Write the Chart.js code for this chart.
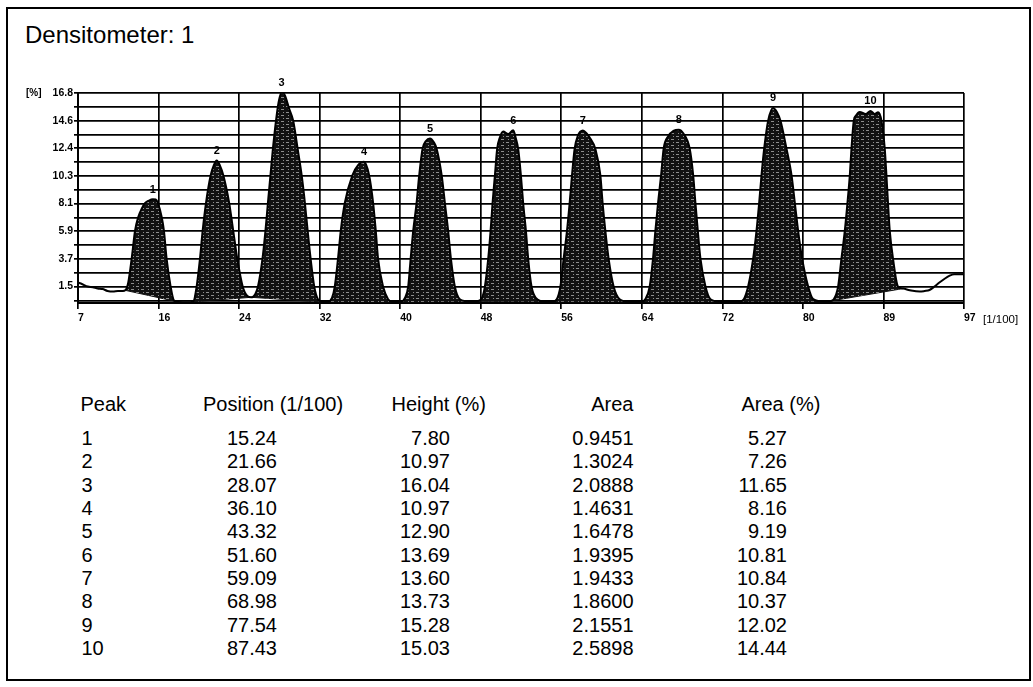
<!DOCTYPE html>
<html><head><meta charset="utf-8">
<script src="https://cdn.jsdelivr.net/npm/chart.js@4/dist/chart.umd.min.js"></script>
<style>
html,body{margin:0;padding:0;background:#fff;}
body{width:1033px;height:687px;position:relative;overflow:hidden;font-family:"Liberation Sans",Arial,sans-serif;color:#000;}
#frame{position:absolute;left:6px;top:7px;width:1025px;height:674px;border:2px solid #000;box-sizing:border-box;}
#title{position:absolute;left:25px;top:23px;font-size:24px;line-height:24px;white-space:nowrap;}
#wrap{position:absolute;left:0;top:0;width:1033px;height:330px;}
.t{position:absolute;font-size:20px;line-height:20px;white-space:nowrap;}
</style></head><body>
<div id="frame"></div>
<div id="title">Densitometer: 1</div>
<div id="wrap"><canvas id="c" width="1033" height="330"></canvas></div>
<div id="table"></div>
<script>
const xTickLabels = ['7','16','24','32','40','48','56','64','72','80','89','97'];
const yTickLabels = ['16.8','14.6','12.4','10.3','8.1','5.9','3.7','1.5'];

const traceX = [7.0,7.4,8.0,8.5,9.0,9.5,10.0,10.55,11.06,11.57,11.8,12.1,12.45,12.79,13.12,13.5,13.8,14.2,14.6,14.9,15.12,15.5,15.73,16.0,16.41,16.75,17.2,18.0,18.7,
19.05,19.39,19.66,20.0,20.48,20.8,21.09,21.4,21.76,22.36,22.77,23.18,23.73,24.2,24.6,
25.0,25.28,25.74,26.04,26.29,26.55,26.8,27.11,27.36,27.69,28.02,28.43,28.86,29.31,29.72,30.05,30.33,30.63,31.0,31.37,31.8,32.4,
32.8,33.08,33.41,33.69,34.1,34.87,35.45,36.06,36.57,36.98,37.25,37.48,37.99,38.5,39.0,39.8,
40.21,40.54,40.79,41.05,41.39,41.66,42.0,42.34,42.75,43.15,43.43,43.94,44.27,44.6,44.88,45.28,45.79,46.8,47.6,
48.03,48.33,48.67,48.91,49.11,49.35,49.58,49.86,50.19,50.7,51.21,51.48,51.71,51.99,52.22,52.5,52.73,53.07,53.51,54.42,55.2,
55.63,56.0,56.33,56.67,56.94,57.18,57.45,57.76,58.29,58.67,59.04,59.55,60.06,60.29,60.57,60.9,61.41,62.02,63.0,64.2,
64.63,65.07,65.41,65.65,65.92,66.23,66.49,66.97,67.48,68.02,68.5,69.14,69.49,69.72,69.96,70.23,70.74,71.25,72.3,74.2,
74.63,75.07,75.58,75.92,76.19,76.43,76.7,77.1,77.61,77.99,78.36,78.97,79.48,79.82,80.15,80.56,81.17,81.68,82.86,83.4,
83.77,84.21,84.55,84.89,85.16,85.4,85.57,85.8,86.01,86.41,87.02,87.5,87.94,88.27,88.62,88.95,89.12,89.28,89.46,89.79,90.3,90.81,
91.49,92.5,93.0,93.5,94.0,94.5,95.0,95.5,96.0,97.0];
const traceY = [1.82,1.7,1.5,1.45,1.35,1.3,1.15,1.1,1.15,1.15,1.2,1.8,3.7,5.9,7.0,7.7,8.1,8.3,8.4,8.38,8.1,7.0,5.9,3.7,1.5,0.4,0.28,0.25,0.3,
1.5,3.7,5.9,8.1,10.3,11.1,11.46,11.1,10.3,8.1,5.9,3.7,1.5,0.75,0.65,
0.9,1.5,3.7,5.9,8.1,10.3,12.4,14.6,16.0,16.88,16.6,15.6,14.6,12.4,10.3,8.1,5.9,3.7,1.5,0.5,0.28,0.3,
0.6,1.5,3.7,5.9,8.1,10.3,11.1,11.36,10.3,8.1,5.9,3.7,1.5,0.5,0.28,0.28,
0.6,1.5,3.7,5.9,8.1,10.3,12.4,13.0,13.2,12.9,12.4,10.3,8.1,5.9,3.7,1.5,0.5,0.32,0.35,
0.6,1.5,3.7,5.9,8.1,10.3,12.4,13.3,13.75,13.55,13.85,13.2,12.4,10.3,8.1,5.9,3.7,1.5,0.6,0.3,0.3,
0.5,1.5,3.7,5.9,8.1,10.3,12.4,13.4,13.83,13.6,13.2,12.4,10.3,8.1,5.9,3.7,1.5,0.5,0.3,0.3,
0.5,1.5,3.7,5.9,8.1,10.3,12.4,13.4,13.8,13.9,13.6,12.4,10.3,8.1,5.9,3.7,1.5,0.5,0.3,0.32,
0.5,1.5,3.7,5.9,8.1,10.3,12.4,14.6,15.62,15.3,14.6,12.4,10.3,8.1,5.9,3.7,1.5,0.5,0.3,0.35,
0.5,1.5,3.7,5.9,8.1,10.3,12.4,14.6,15.0,15.3,15.14,15.38,15.14,15.28,14.6,12.4,10.3,8.1,5.9,3.7,1.5,1.34,
1.21,1.1,1.15,1.23,1.5,1.82,2.1,2.34,2.47,2.47];

const peakNumbers = [1,2,3,4,5,6,7,8,9,10];
const peakStartX = [11.8,18.7,24.6,32.4,39.8,47.6,55.2,64.2,74.2,83.4];
const peakEndX   = [17.2,24.6,31.8,39.0,46.8,54.42,63.0,72.3,82.86,90.81];
const baseStartY = [1.2,0.3,0.65,0.3,0.28,0.35,0.3,0.3,0.32,0.35];
const baseEndY   = [0.28,0.65,0.28,0.28,0.32,0.3,0.3,0.3,0.3,1.34];

const tablePosition = [15.24,21.66,28.07,36.10,43.32,51.60,59.09,68.98,77.54,87.43];
const tableHeight   = [7.80,10.97,16.04,10.97,12.90,13.69,13.60,13.73,15.28,15.03];
const tableArea     = [0.9451,1.3024,2.0888,1.4631,1.6478,1.9395,1.9433,1.8600,2.1551,2.5898];
const tableAreaPct  = [5.27,7.26,11.65,8.16,9.19,10.81,10.84,10.37,12.02,14.44];

const FONT = '"Liberation Sans", Arial, sans-serif';

function makePattern(){
  const c = document.createElement('canvas'); c.width = 10; c.height = 6;
  const p = c.getContext('2d');
  p.fillStyle = '#111'; p.fillRect(0,0,10,6);
  p.fillStyle = '#8c8c8c';
  p.fillRect(1,1,3,1); p.fillRect(6,4,3,1); p.fillRect(8,1,1,1); p.fillRect(3,4,1,1);
  return p.createPattern(c,'repeat');
}
const pat = makePattern();

const tracePts = traceX.map((x,i)=>({x:x, y:traceY[i]}));
const datasets = [{
  label:'trace', data: tracePts, borderColor:'#000', borderWidth:2, pointRadius:0,
  fill:false, cubicInterpolationMode:'monotone', order:0
}];
peakNumbers.forEach((n,i)=>{
  datasets.push({
    label:'peak '+n,
    data: tracePts.filter(p=>p.x>=peakStartX[i]-1e-6 && p.x<=peakEndX[i]+1e-6),
    borderWidth:0, borderColor:'rgba(0,0,0,0)', backgroundColor:pat, pointRadius:0,
    fill:{target: 1+peakNumbers.length+i}, cubicInterpolationMode:'monotone', order:1
  });
});
peakNumbers.forEach((n,i)=>{
  datasets.push({
    label:'baseline '+n,
    data:[{x:peakStartX[i],y:baseStartY[i]},{x:peakEndX[i],y:baseEndY[i]}],
    borderColor:'#111', borderWidth:1, pointRadius:0, fill:false, order:1
  });
});

const labelPlugin = {
  id:'peakLabels',
  afterDatasetsDraw(chart){
    const ctx = chart.ctx; ctx.save();
    ctx.fillStyle = '#000';
    ctx.font = 'bold 11px ' + FONT; ctx.textAlign = 'center'; ctx.textBaseline = 'bottom';
    peakNumbers.forEach((n,i)=>{
      const meta = chart.getDatasetMeta(1+i);
      let top = null;
      meta.data.forEach(p=>{ if(!top || p.y < top.y) top = p; });
      if (top) ctx.fillText(String(n), top.x, top.y - 4);
    });
    const ya = chart.scales.y, xa = chart.scales.x;
    ctx.textAlign = 'left'; ctx.textBaseline = 'middle';
    ctx.font = 'bold 10px ' + FONT;
    ctx.fillText('[%]', 26, ya.getPixelForValue(16.8));
    ctx.font = '11.5px ' + FONT;
    ctx.fillText('[1/100]', xa.right + 19, xa.top + 17);
    ctx.restore();
  }
};

new Chart(document.getElementById('c'), {
  type:'line',
  data:{datasets},
  options:{
    responsive:false, maintainAspectRatio:false, animation:false, devicePixelRatio:1,
    layout:{padding:{left:0, right:69, top:93, bottom:0}},
    plugins:{legend:{display:false}, tooltip:{enabled:false}, title:{display:false}},
    scales:{
      x:{
        type:'linear', min:7, max:97,
        afterBuildTicks:s=>{ const n = xTickLabels.length-1; s.ticks = xTickLabels.map((l,i)=>({value: 7 + i*(90/n)})); },
        afterFit:s=>{ s.height = 27; },
        ticks:{autoSkip:false, maxRotation:0, align:'start', padding:3, color:'#000',
          font:{family:FONT, size:10.5, weight:'bold'}, callback:(v,i)=>xTickLabels[i]},
        grid:{color:'#000', lineWidth:1.7, tickLength:6, drawTicks:true},
        border:{color:'#000', width:2}
      },
      y:{
        type:'linear', min:0.2, max:16.8,
        afterBuildTicks:s=>{
          const step = (16.8-1.5)/((yTickLabels.length-1)*2);
          const arr = [];
          for (let i=0;i<=(yTickLabels.length-1)*2+1;i++) arr.push({value: 16.8 - i*step});
          s.ticks = arr;
        },
        afterFit:s=>{ s.width = 78; },
        ticks:{autoSkip:false, padding:1, color:'#000', font:{family:FONT, size:10.5, weight:'bold'},
          callback:(v,i)=> (i%2===0 && yTickLabels[i/2]) ? yTickLabels[i/2] : ''},
        grid:{color:'#000', lineWidth:1.7, tickLength:4, drawTicks:true},
        border:{color:'#000', width:2}
      }
    }
  },
  plugins:[labelPlugin]
});

// table
const tbl = document.getElementById('table');
function addText(txt, opts){
  const d = document.createElement('div'); d.className='t'; d.textContent = txt;
  if (opts.left!==undefined) d.style.left = opts.left+'px';
  if (opts.right!==undefined) d.style.right = (1033-opts.right)+'px';
  d.style.top = opts.top+'px';
  tbl.appendChild(d);
}
const headTop = 394, rowTop0 = 428, rowStep = 23.33;
addText('Peak',{left:80.5, top:headTop});
addText('Position (1/100)',{left:203, top:headTop});
addText('Height (%)',{left:391.5, top:headTop});
addText('Area',{right:633.5, top:headTop});
addText('Area (%)',{left:741.5, top:headTop});
peakNumbers.forEach((n,i)=>{
  const top = rowTop0 + i*rowStep;
  addText(String(n),{left:81.5, top});
  addText(tablePosition[i].toFixed(2),{right:277, top});
  addText(tableHeight[i].toFixed(2),{right:450, top});
  addText(tableArea[i].toFixed(4),{right:633.5, top});
  addText(tableAreaPct[i].toFixed(2),{right:787, top});
});
</script>
</body></html>
